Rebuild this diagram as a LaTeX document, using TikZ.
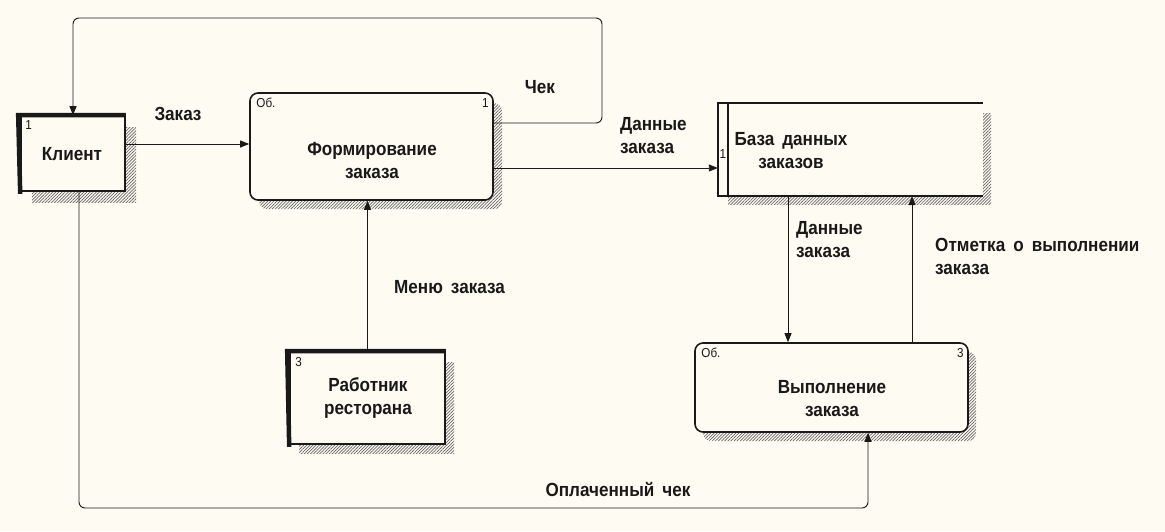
\documentclass[tikz,border=0pt]{standalone}
\usepackage{fontspec}
\setmainfont{Liberation Sans}[FakeStretch=0.9, WordSpace=1.7]
\usetikzlibrary{arrows.meta,patterns.meta,calc}
\definecolor{bg}{RGB}{253,251,242}
\definecolor{ink}{RGB}{25,25,25}
\begin{document}
\begin{tikzpicture}[x=1pt,y=-1pt,
  lbl/.style={font=\bfseries\fontsize{19}{23}\selectfont, align=left, inner sep=0, text=ink},
  boxtext/.style={font=\bfseries\fontsize{19}{23}\selectfont, align=center, inner sep=0, text=ink},
  num/.style={font=\fontsize{13}{14}\selectfont, inner sep=0, text=ink},
  flow/.style={draw=ink, line width=0.9pt, -{Triangle[length=9pt,width=7pt]}},
  shade/.style={pattern={Lines[angle=45,distance=2.2pt,line width=0.7pt]}, pattern color=black!60},
  frame/.style={draw=ink, line width=1.6pt, fill=bg, inner sep=0},
  thickedge/.style={draw=ink, line width=4.5pt},
]
\fill[bg] (0,0) rectangle (1165,531);

% ---------- shadows
\fill[shade] (32,127) rectangle (136,202);
\fill[shade, rounded corners=8] (259,103) rectangle (502,209);
\fill[shade] (728,113) rectangle (991,204);
\fill[shade, rounded corners=8] (703,352) rectangle (976,441);
\fill[shade] (299,362) rectangle (454,453);

% ---------- boxes
\node[frame, minimum width=104, minimum height=75] (klient) at (73,153.5) {};
\draw[thickedge] ([yshift=-2pt]klient.south west) -- ([xshift=-2pt]klient.north west) -- (klient.north east);
\node[num, anchor=north west] (k1) at ([shift={(5,5)}]klient.north west) {1};
\node[boxtext] (klientt) at (72,154) {Клиент};

\node[frame, rounded corners=8, minimum width=243, minimum height=107] (form) at (371.5,146.5) {};
\node[num, anchor=north west] (f0) at ([shift={(7,6)}]form.north west) {Об.};
\node[num, anchor=north east] (f1) at ([shift={(-5,6)}]form.north east) {1};
\node[boxtext] (formt) at (372,161) {Формирование\\заказа};

\node[inner sep=0, minimum width=265, minimum height=93, fill=bg] (db) at (850.5,149.5) {};
\draw[ink, line width=1.6pt] (db.north east) -- (db.north west) -- (db.south west) -- (db.south east);
\draw[ink, line width=1.6pt] ([xshift=10]db.north west) -- ([xshift=10]db.south west);
\node[num, anchor=center] (d1) at ([shift={(5,5)}]db.west) {1};
\node[boxtext] (dbt) at (791,151) {База данных\\заказов};

\node[frame, rounded corners=8, minimum width=273, minimum height=89] (vyp) at (831.5,387.5) {};
\node[num, anchor=north west] (v0) at ([shift={(7,6)}]vyp.north west) {Об.};
\node[num, anchor=north east] (v3) at ([shift={(-5,6)}]vyp.north east) {3};
\node[boxtext] (vypt) at (832,399) {Выполнение\\заказа};

\node[frame, minimum width=155, minimum height=92] (rab) at (367.5,398) {};
\draw[thickedge] ([yshift=-2pt]rab.south west) -- ([xshift=-2pt]rab.north west) -- (rab.north east);
\node[num, anchor=north west] (r3) at ([shift={(6,6)}]rab.north west) {3};
\node[boxtext] (rabt) at (368,398) {Работник\\ресторана};

% ---------- connectors
\draw[flow] (klient.east |- 0,144) -- (form.west |- 0,144);
\node[lbl] (l1) at (178,114) {Заказ};

\coordinate (c1) at (602,18);
\draw[flow, rounded corners=6] (form.east |- 0,123) -- (c1 |- 0,123) -- (c1) -- (klient.north |- c1) -- (klient.north);
\node[lbl] (l2) at (540,87) {Чек};

\draw[flow] (form.east |- 0,168) -- (db.west |- 0,168);
\node[lbl, anchor=west] (l3) at (620,136) {Данные\\заказа};

\draw[flow] (db.south -| 788,0) -- (vyp.north -| 788,0);
\node[lbl, anchor=west] (l4) at (796,240) {Данные\\заказа};

\draw[flow] (vyp.north -| 912,0) -- (db.south -| 912,0);
\node[lbl, anchor=west] (l5) at (935,256) {Отметка о выполнении\\заказа};

\draw[flow] (rab.north) -- (form.south -| rab.north);
\node[lbl, anchor=west] (l6) at (394,287) {Меню заказа};

\coordinate (c2) at (79,508);
\coordinate (c3) at (868,508);
\draw[flow, rounded corners=6] (klient.south -| c2) -- (c2) -- (c3) -- (vyp.south -| c3);
\node[lbl] (l7) at (618,490) {Оплаченный чек};
\end{tikzpicture}
\end{document}
